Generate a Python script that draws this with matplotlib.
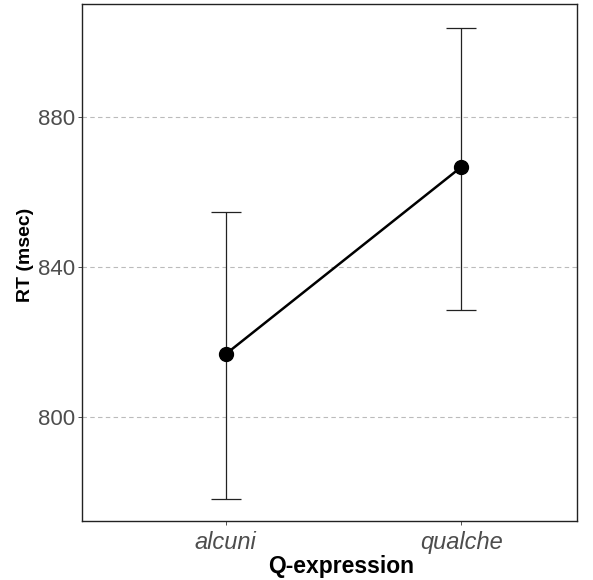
import matplotlib
matplotlib.use("Agg")
import matplotlib.pyplot as plt

categories = ["alcuni", "qualche"]
rt_mean = [816.8, 866.7]
ci_low = [778.1, 828.5]
ci_high = [854.7, 903.7]
yticks = [800, 840, 880]

plt.rcParams['font.family'] = ['Liberation Sans', 'DejaVu Sans']

fig = plt.figure(figsize=(5.93, 5.80), dpi=100)
ax = fig.add_axes([82/593, 1-521/580, (577-82)/593, (521-4)/580])

xs = [1, 2]
lower = [m - l for m, l in zip(rt_mean, ci_low)]
upper = [h - m for m, h in zip(rt_mean, ci_high)]
ax.errorbar(xs, rt_mean, yerr=[lower, upper], fmt='none', ecolor='#222222',
            elinewidth=0.9, capsize=11, capthick=0.9, zorder=2)
ax.plot(xs, rt_mean, color='black', lw=1.8, zorder=3)
ax.plot(xs, rt_mean, 'o', color='black', ms=10, zorder=4)

ax.set_xlim(1 - 0.61, 2 + 0.49)
ax.set_ylim(772.3, 910.1)
ax.set_xticks(xs)
ax.set_xticklabels(categories, style='italic', fontsize=17, color='#4D4D4D')
ax.set_yticks(yticks)
ax.set_yticklabels([str(v) for v in yticks], fontsize=16, color='#4D4D4D')
ax.tick_params(axis='both', length=3, width=0.6, color='#333333', pad=2)
ax.tick_params(axis='x', pad=4)

ax.grid(axis='y', linestyle=(0, (4, 3)), color='#BBBBBB', lw=0.8)
ax.set_axisbelow(True)
for s in ax.spines.values():
    s.set_color('#222222')
    s.set_linewidth(1.0)

ax.set_xlabel('Q-expression', fontsize=16.5, fontweight='bold')
ax.set_ylabel('RT (msec)', fontsize=14, fontweight='bold')
ax.xaxis.set_label_coords(0.524, -0.066)
ax.yaxis.set_label_coords(-0.097, 0.5145)

fig.savefig('out.png', dpi=100)
